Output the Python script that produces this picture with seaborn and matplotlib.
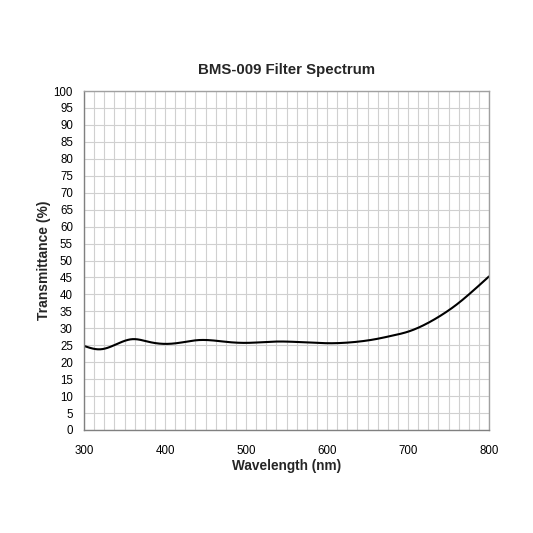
import matplotlib
matplotlib.use("Agg")
import matplotlib.pyplot as plt
import seaborn as sns
import numpy as np
import pandas as pd
from matplotlib.ticker import MultipleLocator

wavelength = [300, 320, 340, 360, 380, 400, 420, 440, 460, 480, 500, 520, 540, 560,
              580, 600, 620, 640, 660, 680, 700, 720, 740, 760, 780, 800]
transmittance = [24.8, 23.8, 25.3, 26.8, 26.0, 25.4, 25.8, 26.5, 26.4, 25.9, 25.7, 25.9,
                 26.1, 26.0, 25.8, 25.6, 25.7, 26.1, 26.8, 27.8, 29.0, 31.0, 33.7, 37.0,
                 41.0, 45.3]

xs = np.linspace(300, 800, 501)
def cubic_interp(x, y, xn):
    x = np.asarray(x, float); y = np.asarray(y, float)
    n = len(x)
    h = np.diff(x)
    A = np.zeros((n, n)); b = np.zeros(n)
    A[0, 0] = 1; A[-1, -1] = 1
    for i in range(1, n - 1):
        A[i, i - 1] = h[i - 1]; A[i, i] = 2 * (h[i - 1] + h[i]); A[i, i + 1] = h[i]
        b[i] = 3 * ((y[i + 1] - y[i]) / h[i] - (y[i] - y[i - 1]) / h[i - 1])
    c = np.linalg.solve(A, b)
    out = np.empty_like(xn)
    for k, xv in enumerate(xn):
        i = min(max(np.searchsorted(x, xv) - 1, 0), n - 2)
        dx = xv - x[i]
        bi = (y[i + 1] - y[i]) / h[i] - h[i] * (2 * c[i] + c[i + 1]) / 3
        di = (c[i + 1] - c[i]) / (3 * h[i])
        out[k] = y[i] + bi * dx + c[i] * dx ** 2 + di * dx ** 3
    return out

df = pd.DataFrame({"Wavelength": xs, "Transmittance": cubic_interp(wavelength, transmittance, xs)})

sns.set_theme(style="white")
plt.rcParams['font.family'] = ['Liberation Sans', 'DejaVu Sans']

fig = plt.figure(figsize=(5.33, 5.33), dpi=100)
ax = fig.add_axes([84/533, 1 - 430/533, (489 - 84)/533, (430 - 91)/533])
sns.lineplot(data=df, x="Wavelength", y="Transmittance", ax=ax, color="black", linewidth=1.5)

ax.set_xlim(300, 800)
ax.set_ylim(0, 100)
ax.xaxis.set_major_locator(MultipleLocator(100))
ax.xaxis.set_minor_locator(MultipleLocator(12.5))
ax.yaxis.set_major_locator(MultipleLocator(5))
ax.grid(True, which="both", axis="x", color="#d0d0d0", linewidth=0.8)
ax.grid(True, which="major", axis="y", color="#d0d0d0", linewidth=0.8)
ax.set_axisbelow(True)
ax.tick_params(axis="both", which="both", length=0, labelsize=8.3, colors="black")
ax.tick_params(axis="x", pad=11)
ax.tick_params(axis="y", pad=8)
for s in ax.spines.values():
    s.set_color("#a0a0a0")
    s.set_linewidth(1)
ax.spines["left"].set_color("#808080")
ax.spines["bottom"].set_color("#808080")

ax.set_xlabel("Wavelength (nm)", fontsize=9.8, fontweight="bold", labelpad=1)
ax.set_ylabel("Transmittance (%)", fontsize=10, fontweight="bold", labelpad=1.5)
ax.set_title("BMS-009 Filter Spectrum", fontsize=10.8, fontweight="bold", pad=12)

fig.savefig("out.png", dpi=100)
